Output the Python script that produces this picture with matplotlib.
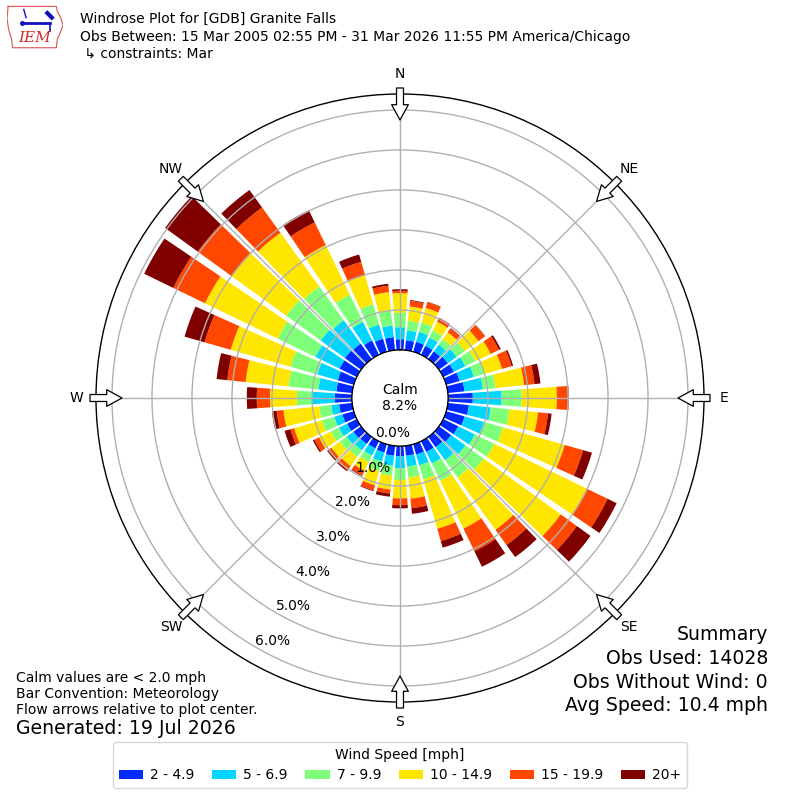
import numpy as np
import matplotlib
matplotlib.use("Agg")
import matplotlib.pyplot as plt
from matplotlib.transforms import offset_copy

# wind direction bins (deg, meteorological) and percent frequency per speed bin
directions = np.arange(0, 360, 10)
speed_labels = ["2 - 4.9", "5 - 6.9", "7 - 9.9", "10 - 14.9", "15 - 19.9", "20+"]

spd_2_5 = [0.27, 0.25, 0.26, 0.25, 0.24, 0.28, 0.30, 0.35, 0.42, 0.62, 0.53, 0.48,
           0.42, 0.38, 0.32, 0.30, 0.27, 0.25, 0.26, 0.25, 0.22, 0.20, 0.22, 0.24,
           0.27, 0.30, 0.33, 0.43, 0.40, 0.42, 0.48, 0.50, 0.48, 0.40, 0.34, 0.33]
spd_5_7 = [0.30, 0.25, 0.26, 0.23, 0.21, 0.27, 0.32, 0.37, 0.46, 0.72, 0.55, 0.50,
           0.46, 0.44, 0.40, 0.32, 0.28, 0.27, 0.30, 0.25, 0.23, 0.20, 0.20, 0.21,
           0.23, 0.21, 0.20, 0.58, 0.45, 0.53, 0.67, 0.75, 0.72, 0.52, 0.37, 0.29]
spd_7_10 = [0.36, 0.24, 0.24, 0.20, 0.17, 0.25, 0.28, 0.28, 0.32, 0.50, 0.47, 0.50,
            0.54, 0.56, 0.53, 0.48, 0.37, 0.28, 0.29, 0.25, 0.25, 0.18, 0.20, 0.21,
            0.22, 0.32, 0.30, 0.37, 0.75, 0.70, 1.05, 1.06, 1.04, 0.75, 0.53, 0.39]
spd_10_15 = [0.49, 0.36, 0.38, 0.24, 0.21, 0.42, 0.42, 0.45, 0.72, 0.88, 0.72, 1.60,
             2.59, 2.38, 1.62, 1.33, 1.28, 0.53, 0.46, 0.35, 0.37, 0.24, 0.28, 0.26,
             0.33, 0.72, 0.90, 0.67, 1.08, 1.55, 2.02, 1.68, 1.66, 1.38, 0.76, 0.45]
spd_15_20 = [0.06, 0.14, 0.15, 0.10, 0.12, 0.20, 0.23, 0.25, 0.26, 0.29, 0.25, 0.48,
             0.56, 0.50, 0.47, 0.63, 0.32, 0.24, 0.17, 0.10, 0.13, 0.13, 0.13, 0.10,
             0.13, 0.10, 0.17, 0.33, 0.46, 0.68, 0.88, 1.05, 0.78, 0.63, 0.34, 0.16]
spd_20p = [0.04, 0.02, 0.01, 0.01, 0.01, 0.01, 0.05, 0.04, 0.15, 0.01, 0.09, 0.23,
           0.25, 0.42, 0.37, 0.43, 0.17, 0.14, 0.08, 0.08, 0.02, 0.02, 0.03, 0.03,
           0.04, 0.15, 0.12, 0.25, 0.27, 0.52, 0.81, 1.01, 0.54, 0.34, 0.19, 0.05]

calm_pct = 8.2
rings = [0, 1, 2, 3, 4, 5, 6]
compass = ["N", "NE", "E", "SE", "S", "SW", "W", "NW"]

summary = ["Summary", "Obs Used: 14028", "Obs Without Wind: 0",
           "Avg Speed: 10.4 mph"]
notes = ["Calm values are < 2.0 mph", "Bar Convention: Meteorology",
         "Flow arrows relative to plot center."]

fig = plt.figure(figsize=(8, 8), dpi=100)
ax = fig.add_axes([0.12, 0.1225, 0.76, 0.76], projection="polar")
ax.set_theta_zero_location("N")
ax.set_theta_direction(-1)
ax.set_rorigin(-1.2)
ax.set_ylim(0, 6.4)

colors = plt.cm.jet(np.linspace(0, 1, 7)[1:])
theta = np.deg2rad(directions)
width = np.deg2rad(8.2)
bottom = np.zeros(len(directions))
handles = []
for vals, col, lab in zip([spd_2_5, spd_5_7, spd_7_10, spd_10_15, spd_15_20, spd_20p],
                          colors, speed_labels):
    vals = np.array(vals)
    b = ax.bar(theta, vals, width=width, bottom=bottom, color=col,
               linewidth=0, label=lab, zorder=1)
    handles.append(b)
    bottom += vals

# grid
ax.set_rgrids(rings[1:], labels=[""] * 6)
ax.set_thetagrids(np.arange(0, 360, 45), labels=[""] * 8)
ax.grid(True, color="#b0b0b0", linewidth=1)
ax.spines["polar"].set_linewidth(1)

# calm circle edge
tt = np.linspace(0, 2 * np.pi, 361)
ax.plot(tt, np.zeros_like(tt), color="black", lw=1, zorder=3)
ax.text(0, -1.2, "Calm\n%.1f%%" % calm_pct, ha="center", va="center",
        fontsize=10, zorder=4)

# radial labels
trans = offset_copy(ax.transData, fig=fig, x=17, y=6.6, units="dots")
for r in rings:
    ax.text(np.deg2rad(210), r, "%.1f%%" % r, transform=trans,
            ha="center", va="center", fontsize=10, zorder=4)

# compass labels and flow arrows
for i, name in enumerate(compass):
    ang = np.deg2rad(i * 45)
    ax.text(ang, 6.9, name, ha="center", va="center", fontsize=10, clip_on=False)
    ax.annotate("", xy=(ang, 5.75), xytext=(ang, 6.55),
                arrowprops=dict(arrowstyle="simple,head_length=0.55,head_width=0.6,tail_width=0.25",
                                mutation_scale=20, fc="white", ec="black", lw=0.9,
                                shrinkA=0, shrinkB=0),
                annotation_clip=False, zorder=5)

# header
fig.text(0.1, 1 - 19 / 800, "Windrose Plot for [GDB] Granite Falls",
         fontsize=10, va="center")
fig.text(0.1, 1 - 37 / 800,
         "Obs Between: 15 Mar 2005 02:55 PM - 31 Mar 2026 11:55 PM America/Chicago",
         fontsize=10, va="center")
fig.text(0.1, 1 - 54 / 800, " \u21b3 constraints: Mar", fontsize=10, va="center")

# small IEM logo
lax = fig.add_axes([7 / 800, 1 - 50 / 800, 56 / 800, 45 / 800])
lax.set_xlim(0, 1)
lax.set_ylim(0, 1)
lax.axis("off")
outline_x = [0.02, 0.88, 0.9, 0.96, 1.0, 0.95, 0.9, 0.88, 0.1, 0.08, 0.03, 0.0, 0.02]
outline_y = [0.97, 0.97, 0.85, 0.72, 0.55, 0.38, 0.25, 0.05, 0.05, 0.25, 0.45, 0.7, 0.97]
lax.plot(outline_x, outline_y, color="#d9534f", lw=0.8)
lax.plot([0.32, 0.76], [0.6, 0.6], color="#1010c0", lw=2)
lax.plot([0.3, 0.34], [0.9, 0.72], color="#1010c0", lw=1)
lax.plot([0.72, 0.8], [0.82, 0.72], color="#1010c0", lw=3)
lax.plot([0.76, 0.76], [0.6, 0.42], color="#1010c0", lw=1.2)
lax.plot([0.27], [0.6], "o", color="#1010c0", ms=2.5)
lax.text(0.5, 0.27, "IEM", color="#d62728", fontsize=11,
         family="DejaVu Serif", style="italic", ha="center", va="center")

# footer notes
for k, line in enumerate(notes):
    fig.text(0.02, 1 - (678 + 16 * k) / 800, line, fontsize=10, va="center")
fig.text(0.02, 1 - 729 / 800, "Generated: 19 Jul 2026", fontsize=13.6, va="center")

for k, line in enumerate(summary):
    fig.text(0.96, 1 - (635 + 23.5 * k) / 800, line, fontsize=13.6,
             ha="right", va="center")

fig.legend(handles=handles, loc="center", bbox_to_anchor=(0.5, 1 - 765 / 800),
           ncol=6, title="Wind Speed [mph]", fontsize=10, title_fontsize=10,
           handlelength=1.75, handleheight=0.55, handletextpad=0.5,
           columnspacing=1.27)

fig.savefig("out.png", dpi=100)
